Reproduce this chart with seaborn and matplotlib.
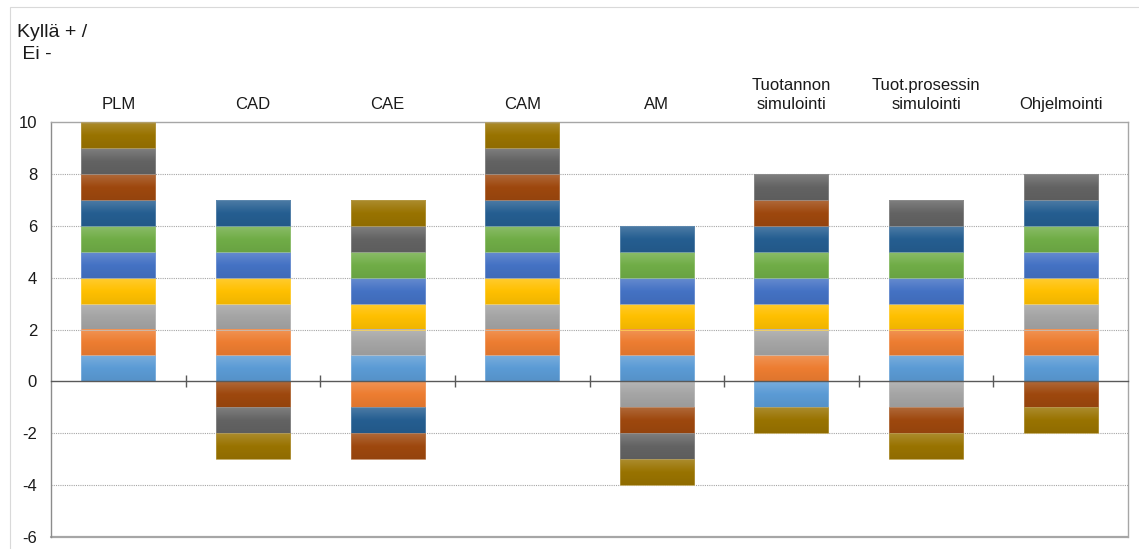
import numpy as np
import pandas as pd
import matplotlib
matplotlib.use("Agg")
import matplotlib.pyplot as plt
import seaborn as sns
from matplotlib.colors import to_rgb, LinearSegmentedColormap
from matplotlib.patches import Rectangle

categories = ["PLM", "CAD", "CAE", "CAM", "AM", "Tuotannon\nsimulointi",
              "Tuot.prosessin\nsimulointi", "Ohjelmointi"]
series_names = ["V1", "V2", "V3", "V4", "V5", "V6", "V7", "V8", "V9", "V10"]
# +1 = Kyllä, -1 = Ei, per category (same order as categories)
v1 = [1, 1, 1, 1, 1, -1, 1, 1]
v2 = [1, 1, -1, 1, 1, 1, 1, 1]
v3 = [1, 1, 1, 1, -1, 1, -1, 1]
v4 = [1, 1, 1, 1, 1, 1, 1, 1]
v5 = [1, 1, 1, 1, 1, 1, 1, 1]
v6 = [1, 1, 1, 1, 1, 1, 1, 1]
v7 = [1, 1, -1, 1, 1, 1, 1, 1]
v8 = [1, -1, -1, 1, -1, 1, -1, -1]
v9 = [1, -1, 1, 1, -1, 1, 1, 1]
v10 = [1, -1, 1, 1, -1, -1, -1, -1]
series_values = [v1, v2, v3, v4, v5, v6, v7, v8, v9, v10]
colors = ["#5B9BD5", "#ED7D31", "#A5A5A5", "#FFC000", "#4472C4",
          "#70AD47", "#255E91", "#9E480E", "#636363", "#997300"]
y_ticks = [10, 8, 6, 4, 2, 0, -2, -4, -6]

sns.set_theme(style="white")
plt.rcParams["font.family"] = ["Liberation Sans", "DejaVu Sans"]

fig = plt.figure(figsize=(11.39, 5.49), dpi=100)
W, H = 1139, 549
left_px, right_px, top_px, bot_px = 51, 1128, 122, 537
ax = fig.add_axes([left_px / W, 1 - bot_px / H, (right_px - left_px) / W, (bot_px - top_px) / H])

n = len(categories)
pos_cum = np.zeros(n)
neg_cum = np.zeros(n)
for name, vals, col in zip(series_names, series_values, colors):
    vals = np.array(vals, dtype=float)
    bottom = np.where(vals > 0, pos_cum, neg_cum)
    df = pd.DataFrame({"cat": categories, "val": vals})
    sns.barplot(data=df, x="cat", y="val", order=categories, color=col,
                bottom=bottom, width=0.55, errorbar=None, ax=ax,
                saturation=1, edgecolor="white", linewidth=0.4, zorder=2)
    pos_cum += np.where(vals > 0, vals, 0)
    neg_cum += np.where(vals < 0, vals, 0)

ax.set_xlim(-0.5, n - 0.5)
ax.set_ylim(-6, 10)

# gradient overlay on each bar segment (lighter at top, darker at bottom)
def lighten(c, f):
    r = np.array(to_rgb(c))
    return tuple(r + (1 - r) * f)

def darken(c, f):
    r = np.array(to_rgb(c))
    return tuple(r * (1 - f))

grad = np.linspace(0, 1, 64).reshape(-1, 1)
for p in list(ax.patches):
    if not isinstance(p, Rectangle) or p.get_height() == 0:
        continue
    x0, y0 = p.get_x(), p.get_y()
    w, h = p.get_width(), p.get_height()
    ylo, yhi = min(y0, y0 + h), max(y0, y0 + h)
    c = p.get_facecolor()[:3]
    cmap = LinearSegmentedColormap.from_list(
        "g", [lighten(c, 0.18), tuple(c), darken(c, 0.06)])
    ax.imshow(grad, cmap=cmap, aspect="auto", extent=(x0, x0 + w, ylo, yhi),
              origin="upper", zorder=2.5, interpolation="bicubic")
    ax.add_patch(Rectangle((x0, ylo), w, yhi - ylo, fill=False,
                           edgecolor=lighten(c, 0.3), linewidth=0.5, zorder=2.6))

ax.set_xlim(-0.5, n - 0.5)
ax.set_ylim(-6, 10)

# gridlines
for yv in [8, 6, 4, 2, -2, -4]:
    ax.axhline(yv, color="#A6A6A6", linestyle=(0, (1, 1)), linewidth=0.8, zorder=1)

# frame
for s in ["top", "right"]:
    ax.spines[s].set_visible(True)
    ax.spines[s].set_color("#A6A6A6")
    ax.spines[s].set_linewidth(1.0)
ax.spines["left"].set_color("#8C8C8C")
ax.spines["left"].set_linewidth(1.0)
ax.spines["bottom"].set_position(("data", 0))
ax.spines["bottom"].set_color("#595959")
ax.spines["bottom"].set_linewidth(1.0)
ax.spines["bottom"].set_zorder(3)
ax.axhline(-6, color="#A6A6A6", linewidth=1.6, zorder=1, clip_on=False)

ax.set_xticks(np.arange(0.5, n - 0.5, 1.0))
ax.set_xticklabels([])
ax.tick_params(axis="x", direction="inout", length=8, width=1.0, color="#595959", bottom=True)
ax.set_yticks(y_ticks)
ax.set_yticklabels([str(t) for t in y_ticks], fontsize=12, color="#1a1a1a")
ax.tick_params(axis="y", length=0, pad=10)
ax.set_xlabel("")
ax.set_ylabel("")

# category labels above plot
for i, lab in enumerate(categories):
    ax.annotate(lab, xy=(i, 1.0), xycoords=("data", "axes fraction"),
                xytext=(0, 7.5), textcoords="offset points",
                ha="center", va="bottom", fontsize=12, color="#1a1a1a",
                linespacing=1.3)

fig.text(17 / W, 1 - 59 / H, "Kyllä + /\n Ei -", fontsize=14, color="#1a1a1a",
         ha="left", va="baseline", linespacing=1.4)

# outer chart border
fig.patches.append(Rectangle((10 / W, -0.02), 1.2, 1 - 7 / H + 0.02, transform=fig.transFigure,
                             fill=False, edgecolor="#D9D9D9", linewidth=0.8))

fig.savefig("out.png", dpi=100)
